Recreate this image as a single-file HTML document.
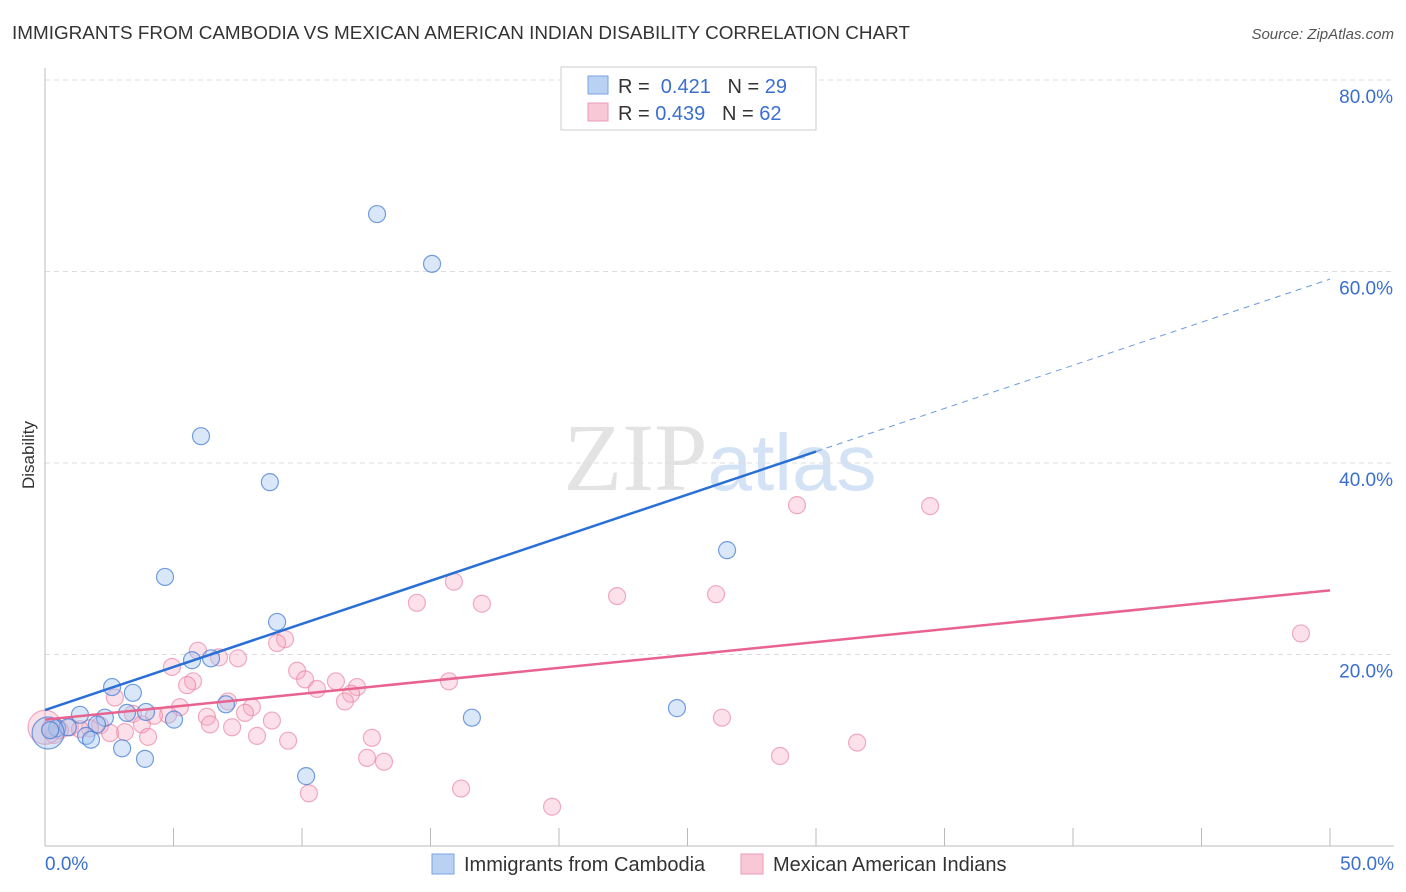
<!DOCTYPE html>
<html><head><meta charset="utf-8"><style>
body{margin:0;background:#fff;font-family:"Liberation Sans",sans-serif}
</style></head><body>
<svg id="chart" width="1406" height="892" xmlns="http://www.w3.org/2000/svg" style="display:block">
<text x="12" y="39" font-size="18" fill="#333" textLength="898" lengthAdjust="spacingAndGlyphs">IMMIGRANTS FROM CAMBODIA VS MEXICAN AMERICAN INDIAN DISABILITY CORRELATION CHART</text>
<text x="1394" y="39" font-size="15" fill="#555" text-anchor="end" font-style="italic">Source: ZipAtlas.com</text>
<text x="720" y="490" font-size="96" text-anchor="middle" font-family="Liberation Serif,serif" fill="#e3e3e3">ZIP<tspan fill="#d3e2f5" font-family="Liberation Sans,sans-serif" font-size="80">atlas</tspan></text>
<text transform="translate(34,455) rotate(-90)" font-size="17" fill="#333" text-anchor="middle">Disability</text>
<g id="grid"></g><g id="pts"></g><g id="lines"></g>
<g>
<rect x="561" y="67" width="255" height="63" fill="#fff" stroke="#ccc"/>
<rect x="588" y="76" width="20" height="18" fill="#b9d1f3" stroke="#7aa3e0"/>
<rect x="588" y="103" width="20" height="18" fill="#f9c8d6" stroke="#ec9ab4"/>
<text x="618" y="93" font-size="20" fill="#333">R = <tspan fill="#3a6fd0">&#160;0.421</tspan>&#160;&#160;&#160;N = <tspan fill="#3a6fd0">29</tspan></text>
<text x="618" y="120" font-size="20" fill="#333">R = <tspan fill="#3a6fd0">0.439</tspan>&#160;&#160;&#160;N = <tspan fill="#3a6fd0">62</tspan></text>
</g>
<g>
<rect x="432" y="854" width="22" height="20" fill="#b9d1f3" stroke="#7aa3e0"/>
<text x="464" y="871" font-size="20" fill="#333">Immigrants from Cambodia</text>
<rect x="741" y="854" width="22" height="20" fill="#f9c8d6" stroke="#ec9ab4"/>
<text x="773" y="871" font-size="20" fill="#333">Mexican American Indians</text>
</g>
</svg>
<script>
const yTicks=[20,40,60,80];
const xTickLabels=["0.0%","50.0%"];
const blueX=[12.92,15.06,6.07,8.75,26.54,4.67,9.03,5.72,6.46,2.61,3.42,7.04,3.93,3.19,1.36,2.33,5.02,16.61,24.59,2.02,0.47,0.89,0.12,1.6,1.79,3.0,3.89,10.16,0.2];
const blueY=[66.0,60.8,42.8,38.0,30.9,28.1,23.4,19.4,19.6,16.6,16.0,14.8,14.0,13.9,13.7,13.4,13.2,13.4,14.4,12.7,12.3,12.4,11.8,11.5,11.1,10.2,9.1,7.3,12.1];
const pinkX=[29.26,34.44,48.87,15.91,14.47,17.0,22.26,26.11,9.34,9.03,5.95,6.77,7.51,4.94,9.81,5.76,5.53,10.12,11.32,12.14,10.58,15.72,11.91,11.67,7.12,2.72,5.25,8.05,3.42,4.79,6.3,7.78,4.24,8.83,6.42,7.28,3.77,26.34,2.14,1.75,0.97,0.58,3.11,2.53,4.01,8.25,9.46,12.72,31.6,12.53,13.19,28.6,16.19,10.27,19.73,0.2,1.36,0.35,0.0];
const pinkY=[35.6,35.5,22.2,27.6,25.4,25.3,26.1,26.3,21.6,21.2,20.4,19.7,19.6,18.7,18.3,17.2,16.8,17.4,17.2,16.6,16.4,17.2,15.9,15.1,15.1,15.5,14.5,14.5,13.8,13.7,13.5,13.9,13.6,13.1,12.7,12.4,12.7,13.4,12.6,12.3,12.4,12.1,11.9,11.8,11.4,11.5,11.0,11.3,10.8,9.2,8.8,9.4,6.0,5.5,4.1,12.3,12.2,11.6,12.4];
const blueFit=[14.2,59.2];
const pinkFit=[13.2,26.7];
const NS="http://www.w3.org/2000/svg";
const X=v=>45+v/50*1285, Y=v=>846-v/20*191.5;
function mk(t,a,p){const e=document.createElementNS(NS,t);for(const k in a)e.setAttribute(k,a[k]);p.appendChild(e);return e;}
const grid=document.getElementById('grid');
yTicks.forEach(t=>{
 const l=mk('line',{x1:45,x2:1394,y1:Y(t),y2:Y(t),stroke:'#ddd','stroke-dasharray':'5,4'},grid);
 
 
 const tx=mk('text',{x:1393,y:Y(t)+23,'font-size':19,fill:'#3a6fd0','text-anchor':'end'},grid);tx.textContent=t.toFixed(1)+'%';
 
 
});
mk('line',{x1:45,x2:45,y1:68,y2:846,stroke:'#bbb'},grid);
mk('line',{x1:45,x2:1394,y1:846,y2:846,stroke:'#bbb'},grid);
for(let i=0;i<=10;i++){mk('line',{x1:X(i*5),x2:X(i*5),y1:828,y2:846,stroke:'#bbb'},grid);}
xTickLabels.forEach((s,i)=>{const tx=mk('text',{x:i?1394:45,y:870,'font-size':19,fill:'#3a6fd0','text-anchor':i?'end':'start'},grid);tx.textContent=s;
 
 });
const pts=document.getElementById('pts');
pinkX.forEach((x,i)=>{const c=mk('circle',{cx:X(x),cy:Y(pinkY[i]),r:(x===0?17:8.5),fill:'rgba(246,170,194,0.35)',stroke:'rgba(232,120,155,0.6)','stroke-width':1.2},pts);
 
 });
blueX.forEach((x,i)=>{const c=mk('circle',{cx:X(x),cy:Y(blueY[i]),r:(i===22?16:8.5),fill:'rgba(160,195,240,0.4)',stroke:'rgba(60,120,210,0.7)','stroke-width':1.2},pts);
 
 });
const lines=document.getElementById('lines');
const bAt=x=>blueFit[0]+(blueFit[1]-blueFit[0])*x/50;
let l1=mk('line',{x1:X(0),y1:Y(bAt(0)),x2:X(30),y2:Y(bAt(30)),stroke:'#2a6fd6','stroke-width':2.5},lines);


let l2=mk('line',{x1:X(30),y1:Y(bAt(30)),x2:X(50),y2:Y(bAt(50)),stroke:'#6a9ae0','stroke-width':1,'stroke-dasharray':'6,5'},lines);


let l3=mk('line',{x1:X(0),y1:Y(pinkFit[0]),x2:X(50),y2:Y(pinkFit[1]),stroke:'#e8638e','stroke-width':2.5},lines);


</script>
</body></html>
